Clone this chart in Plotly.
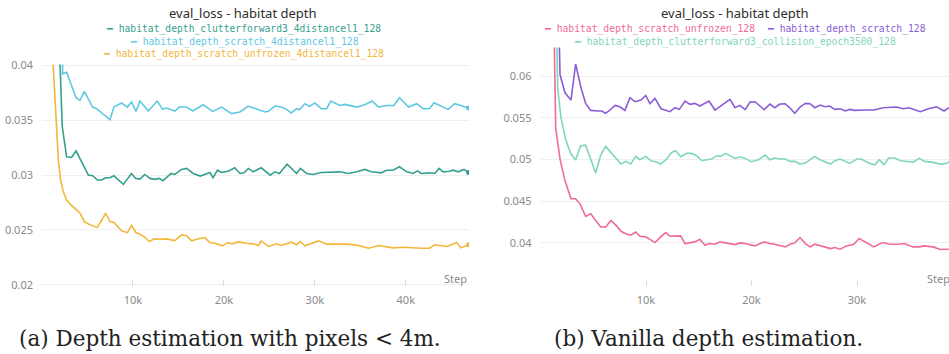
import plotly.graph_objects as go

# ---------------- data: left panel (depth with pixels < 4m) ----------------
left_cyan_x = [2.1, 2.27, 2.71, 3.74, 4.18, 4.65, 5.57, 6.0, 7.47, 7.91, 8.75, 9.38, 9.85, 10.33, 10.77,
               11.68, 12.67, 13.26, 13.7, 14.6, 15.1, 15.9, 16.56, 17.73, 18.75, 19.74, 20.84, 21.76,
               22.67, 23.4, 23.96, 24.5, 24.9, 25.6, 26.3, 26.9, 27.4, 28.0, 28.3, 28.9, 29.4, 30.0,
               30.7, 31.3, 31.75, 32.75, 33.3, 33.85, 34.6, 35.5, 36.3, 37.0, 37.9, 38.7, 39.3, 40.3,
               41.2, 41.9, 42.6, 43.1, 43.9, 44.65, 45.4, 46.1, 46.9]
left_cyan_y = [0.06, 0.03924, 0.03939, 0.03706, 0.03682, 0.03764, 0.03621, 0.03606, 0.03506, 0.03621,
               0.03658, 0.03621, 0.03667, 0.03582, 0.03676, 0.03585, 0.03676, 0.03600, 0.03612, 0.03585,
               0.03621, 0.03621, 0.03585, 0.03642, 0.03582, 0.03621, 0.03561, 0.03576, 0.03630, 0.03606,
               0.03591, 0.03576, 0.03582, 0.03630, 0.03621, 0.03600, 0.03567, 0.03606, 0.03597, 0.03652,
               0.03627, 0.03658, 0.03606, 0.03606, 0.03676, 0.03636, 0.03645, 0.03636, 0.03621, 0.03642,
               0.03676, 0.03621, 0.03636, 0.03636, 0.03706, 0.03621, 0.03652, 0.03606, 0.03606, 0.03661,
               0.03630, 0.03600, 0.03652, 0.03636, 0.03612]

left_teal_x = [1.9, 2.23, 2.71, 3.26, 3.74, 4.18, 4.6, 5.1, 5.57, 6.08, 6.56, 7.0, 7.47, 7.9, 8.94, 9.85,
               10.3, 10.77, 11.3, 11.87, 12.42, 12.9, 13.3, 14.2, 14.6, 15.35, 15.9, 16.63, 17.4, 18.1,
               18.46, 18.8, 19.3, 19.74, 20.47, 21.2, 21.76, 22.2, 22.7, 23.2, 23.8, 24.1, 25.1, 25.6,
               26.1, 26.95, 28.0, 28.4, 29.1, 29.8, 30.7, 31.8, 32.7, 33.7, 34.6, 35.5, 36.2, 37.3, 37.9,
               38.6, 39.3, 40.1, 40.8, 41.3, 41.7, 42.6, 43.2, 43.65, 44.1, 44.8, 45.2, 45.75, 46.4, 46.9]
left_teal_y = [0.042, 0.03440, 0.03167, 0.03161, 0.03221, 0.03152, 0.03082, 0.03000, 0.02994, 0.02955,
               0.02955, 0.02976, 0.02976, 0.02994, 0.02915, 0.03015, 0.02970, 0.02964, 0.03006, 0.02970,
               0.02961, 0.02970, 0.02949, 0.03015, 0.03006, 0.03052, 0.03061, 0.03015, 0.02991, 0.03015,
               0.03024, 0.02976, 0.03045, 0.03024, 0.03036, 0.03067, 0.03015, 0.03021, 0.03061, 0.03030,
               0.03052, 0.03067, 0.03000, 0.03030, 0.03015, 0.03100, 0.03015, 0.03061, 0.03015, 0.03006,
               0.03024, 0.03024, 0.03030, 0.03015, 0.03030, 0.03052, 0.03030, 0.03021, 0.03045, 0.03045,
               0.03076, 0.03030, 0.03015, 0.03039, 0.03015, 0.03021, 0.03015, 0.03061, 0.03030, 0.03036,
               0.03045, 0.03030, 0.03052, 0.03024]

left_yellow_x = [1.0, 1.8, 2.05, 2.34, 2.71, 3.26, 3.74, 4.18, 4.65, 5.16, 6.08, 7.0, 7.47, 7.91, 8.75, 9.38,
                 9.85, 10.33, 10.77, 11.32, 11.8, 12.34, 12.97, 13.7, 14.6, 15.35, 15.9, 16.45, 17.0, 17.9,
                 18.46, 19.0, 19.85, 20.4, 20.9, 21.6, 22.5, 23.2, 23.8, 24.1, 24.9, 25.8, 26.3, 27.4,
                 28.0, 28.4, 28.9, 29.6, 30.4, 31.3, 32.4, 33.5, 34.6, 35.9, 37.0, 37.9, 38.6, 39.8, 40.8,
                 41.7, 42.6, 43.2, 43.7, 44.5, 45.0, 45.6, 46.05, 46.9]
left_yellow_y = [0.0435, 0.03136, 0.02955, 0.02849, 0.02773, 0.02721, 0.02688, 0.02652, 0.02576, 0.02552,
                 0.02521, 0.02652, 0.02576, 0.02567, 0.02491, 0.02476, 0.02540, 0.02476, 0.02461, 0.02433,
                 0.02394, 0.02418, 0.02415, 0.02418, 0.02403, 0.02455, 0.02446, 0.02400, 0.02415, 0.02430,
                 0.02385, 0.02379, 0.02355, 0.02385, 0.02373, 0.02391, 0.02379, 0.02373, 0.02358, 0.02400,
                 0.02349, 0.02373, 0.02358, 0.02388, 0.02364, 0.02394, 0.02355, 0.02373, 0.02400, 0.02370,
                 0.02370, 0.02370, 0.02361, 0.02333, 0.02358, 0.02349, 0.02336, 0.02342, 0.02336, 0.02333,
                 0.02333, 0.02364, 0.02358, 0.02349, 0.02364, 0.02385, 0.02336, 0.02364]

# ---------------- data: right panel (vanilla depth) ----------------
right_purple_x = [1.5, 1.85, 2.32, 2.89, 3.33, 3.84, 4.28, 4.76, 5.48, 5.8, 6.18, 6.6, 7.06, 7.53, 8.0,
                  8.48, 8.96, 9.52, 9.97, 10.38, 10.85, 11.42, 12.27, 12.75, 13.16, 13.7, 14.17, 14.64,
                  15.1, 15.97, 16.54, 17.17, 17.96, 18.44, 18.9, 19.4, 19.86, 20.33, 21.2, 21.75, 22.2,
                  22.7, 23.2, 23.65, 24.1, 24.6, 25.1, 25.55, 26.0, 26.5, 26.97, 27.4, 27.9, 28.4, 28.9,
                  29.3, 29.8, 30.6, 31.6, 32.5, 33.75, 34.4, 34.9, 35.4, 36.0, 36.76, 37.55, 38.25, 38.7]
right_purple_y = [0.08, 0.0602, 0.05801, 0.05714, 0.06147, 0.05861, 0.05674, 0.0559, 0.05583, 0.05583,
                  0.05555, 0.05595, 0.0565, 0.05634, 0.0559, 0.05742, 0.05694, 0.05714, 0.05769, 0.0567,
                  0.05734, 0.0561, 0.05575, 0.05622, 0.05602, 0.05702, 0.05662, 0.05674, 0.05642, 0.05702,
                  0.05594, 0.05654, 0.05722, 0.05622, 0.0565, 0.0560, 0.0569, 0.05694, 0.0560, 0.05666,
                  0.05622, 0.05666, 0.0567, 0.05618, 0.05555, 0.0563, 0.05674, 0.0567, 0.05622, 0.05654,
                  0.05634, 0.05642, 0.05602, 0.0561, 0.05583, 0.05602, 0.0559, 0.05594, 0.05594, 0.05622,
                  0.0563, 0.0561, 0.05622, 0.05602, 0.05575, 0.0561, 0.05634, 0.05583, 0.05622]

right_mint_x = [1.3, 1.63, 1.94, 2.42, 2.89, 3.33, 3.8, 4.28, 4.76, 5.23, 5.7, 6.18, 6.75, 7.16, 7.63,
                8.07, 8.55, 9.02, 9.43, 9.97, 10.47, 10.92, 11.39, 11.9, 12.43, 12.8, 13.3, 13.85, 14.33,
                14.8, 15.3, 15.75, 16.23, 16.7, 17.08, 17.55, 17.96, 18.44, 18.9, 19.4, 20.0, 20.65,
                21.3, 21.75, 22.2, 22.7, 23.2, 23.65, 24.1, 24.6, 25.1, 26.0, 26.5, 27.5, 27.9, 28.4,
                29.3, 30.0, 30.4, 30.9, 31.2, 31.7, 32.1, 32.56, 33.0, 33.6, 34.1, 35.0, 35.3, 35.9, 36.4,
                37.2, 37.9, 38.5, 38.7]
right_mint_y = [0.08, 0.05857, 0.05503, 0.05225, 0.05066, 0.04994, 0.05165, 0.05173, 0.05006, 0.04835,
                0.05054, 0.05157, 0.05074, 0.05018, 0.04946, 0.04978, 0.04946, 0.05038, 0.04998, 0.05038,
                0.04986, 0.04974, 0.04946, 0.04998, 0.05086, 0.05106, 0.05034, 0.05074, 0.05074, 0.05046,
                0.04986, 0.04998, 0.05006, 0.05046, 0.05038, 0.05074, 0.05046, 0.05014, 0.05034, 0.05014,
                0.04974, 0.04998, 0.05054, 0.04998, 0.05018, 0.05006, 0.05006, 0.04978, 0.04978, 0.04946,
                0.04958, 0.05038, 0.04998, 0.04946, 0.04986, 0.05006, 0.04954, 0.05006, 0.05006, 0.04974,
                0.04954, 0.04938, 0.04998, 0.04938, 0.05018, 0.05018, 0.04986, 0.04974, 0.04966, 0.05014,
                0.04978, 0.04966, 0.04946, 0.04954, 0.04974]

right_pink_x = [1.1, 1.44, 1.85, 2.32, 2.89, 3.33, 3.74, 4.28, 4.76, 5.23, 5.7, 6.18, 6.68, 7.16, 7.63,
                8.07, 8.55, 9.02, 9.43, 9.97, 10.38, 10.85, 11.39, 11.86, 12.27, 12.75, 13.28, 13.7,
                14.17, 14.64, 15.1, 15.6, 15.97, 16.54, 17.01, 17.49, 17.96, 18.44, 18.9, 19.4, 20.3,
                21.2, 21.75, 22.2, 23.2, 23.65, 24.1, 24.6, 25.1, 25.55, 26.0, 26.5, 27.5, 27.9, 28.4,
                29.0, 29.7, 30.2, 30.8, 31.6, 32.4, 33.1, 33.9, 34.5, 35.3, 35.9, 36.4, 37.2, 37.9, 38.7]
right_pink_y = [0.08, 0.05380, 0.05006, 0.04748, 0.04529, 0.04529, 0.04469, 0.04318, 0.04350, 0.04270,
                0.04191, 0.04191, 0.04270, 0.04211, 0.04139, 0.04111, 0.04092, 0.04131, 0.04080, 0.04072,
                0.04044, 0.04004, 0.04072, 0.04123, 0.04080, 0.04084, 0.04084, 0.03992, 0.04004, 0.04012,
                0.04044, 0.03972, 0.03992, 0.03984, 0.04012, 0.04004, 0.03992, 0.03980, 0.04000, 0.03992,
                0.03964, 0.04012, 0.03992, 0.03984, 0.03952, 0.03984, 0.04000, 0.04064, 0.03992, 0.03952,
                0.03984, 0.03964, 0.03932, 0.03944, 0.03924, 0.03964, 0.03984, 0.04052, 0.04012, 0.03952,
                0.04004, 0.03984, 0.03984, 0.03992, 0.03952, 0.03952, 0.03964, 0.03952, 0.03920, 0.03924]

left_names = ["habitat_depth_clutterforward3_4distancel1_128",
              "habitat_depth_scratch_4distancel1_128",
              "habitat_depth_scratch_unfrozen_4distancel1_128"]
right_names = ["habitat_depth_scratch_unfrozen_128",
               "habitat_depth_scratch_128",
               "habitat_depth_clutterforward3_collision_epoch3500_128"]
panel_title = "eval_loss - habitat depth"
caption_a = "(a) Depth estimation with pixels &lt; 4m."
caption_b = "(b) Vanilla depth estimation."

left_xticks = [10, 20, 30, 40]
right_xticks = [10, 20, 30]
xtick_text = {10: "10k", 20: "20k", 30: "30k", 40: "40k"}
left_yticks = [0.02, 0.025, 0.03, 0.035, 0.04]
right_yticks = [0.04, 0.045, 0.05, 0.055, 0.06]

# ---------------- styling ----------------
C_TEAL = "#36a08f"
C_CYAN = "#5fc8e2"
C_YELLOW = "#f2b73a"
C_PINK = "#ef6b96"
C_PURPLE = "#8b5cd4"
C_MINT = "#7fd6bd"
W, H = 949, 354

fig = go.Figure()


def add_line(x, y, color, xa, ya, name, end_marker=False):
    fig.add_trace(go.Scatter(x=[v * 1000 for v in x], y=y, mode="lines", name=name,
                             line=dict(color=color, width=1.6), xaxis=xa, yaxis=ya,
                             showlegend=False, hoverinfo="skip"))
    if end_marker:
        fig.add_trace(go.Scatter(x=[x[-1] * 1000], y=[y[-1]], mode="markers",
                                 marker=dict(color=color, size=5), xaxis=xa, yaxis=ya,
                                 showlegend=False, hoverinfo="skip"))


add_line(left_cyan_x, left_cyan_y, C_CYAN, "x", "y", left_names[1], True)
add_line(left_teal_x, left_teal_y, C_TEAL, "x", "y", left_names[0], True)
add_line(left_yellow_x, left_yellow_y, C_YELLOW, "x", "y", left_names[2], True)
add_line(right_mint_x, right_mint_y, C_MINT, "x2", "y2", right_names[2])
add_line(right_purple_x, right_purple_y, C_PURPLE, "x2", "y2", right_names[1])
add_line(right_pink_x, right_pink_y, C_PINK, "x2", "y2", right_names[0])

tickfont = dict(family="Noto Sans", size=11, color="#8a8a8a")
grid = "#efefef"


def px2x(p):
    return p / W


def py2y(p):
    # target pixel row -> paper coordinate (compensates the observed vertical rendering offset)
    d = (p - 6.4) / 0.966
    return 1 - d / H


common_x = dict(showgrid=False, zeroline=False, showline=False, ticks="inside", ticklen=6,
                tickcolor="#dcdcdc", tickwidth=1, tickfont=tickfont, ticklabelstandoff=6)
common_y = dict(showgrid=True, gridcolor=grid, gridwidth=1, zeroline=False, showline=False,
                ticks="", tickfont=tickfont, ticklabelstandoff=8)

fig.update_layout(
    width=W, height=H, margin=dict(l=0, r=0, t=0, b=0),
    paper_bgcolor="white", plot_bgcolor="white",
    xaxis=dict(domain=[px2x(42), px2x(469)], range=[0, 46950], anchor="y",
               tickvals=[v * 1000 for v in left_xticks], ticktext=[xtick_text[v] for v in left_xticks],
               **common_x),
    yaxis=dict(domain=[py2y(286), py2y(64)], range=[0.0199, 0.0401], anchor="x",
               tickvals=left_yticks, ticktext=[str(v) for v in left_yticks], **common_y),
    xaxis2=dict(domain=[px2x(540.5), 1.0], range=[0, 38720], anchor="y2",
                tickvals=[v * 1000 for v in right_xticks], ticktext=[xtick_text[v] for v in right_xticks],
                **common_x),
    yaxis2=dict(domain=[py2y(286), py2y(47)], range=[0.03485, 0.06345], anchor="x2",
                tickvals=right_yticks, ticktext=[str(v) for v in right_yticks], **common_y),
)

ann = []
# titles
for cx in (243, 735):
    ann.append(dict(text=panel_title, x=px2x(cx), y=py2y(12.5), xref="paper", yref="paper",
                    showarrow=False, xanchor="center", yanchor="middle",
                    font=dict(family="Noto Sans", size=13, color="#2e2e2e")))
# legends (monospace)
legfont = "DejaVu Sans Mono"
LS = 9.7
leg_items = [
    (left_names[0], C_TEAL, 243.5, 28),
    (left_names[1], C_CYAN, 244, 42),
    (left_names[2], C_YELLOW, 243.5, 54),
    (right_names[0], C_PINK, 649, 28),
    (right_names[1], C_PURPLE, 846, 28),
    (right_names[2], C_MINT, 735, 42),
]
for name, col, cx, cy in leg_items:
    ann.append(dict(text="\u2501 " + name, x=px2x(cx), y=py2y(cy), xref="paper", yref="paper",
                    showarrow=False, xanchor="center", yanchor="middle",
                    font=dict(family=legfont, size=LS, color=col)))
# Step labels
for sx in (455, 938):
    ann.append(dict(text="Step", x=px2x(sx), y=py2y(279), xref="paper", yref="paper",
                    showarrow=False, xanchor="center", yanchor="middle",
                    font=dict(family="Noto Sans", size=11, color="#8a8a8a")))
# captions
ann.append(dict(text=caption_a, x=px2x(230), y=py2y(339), xref="paper", yref="paper",
                showarrow=False, xanchor="center", yanchor="middle",
                font=dict(family="DejaVu Serif", size=21.5, color="#222222")))
ann.append(dict(text=caption_b, x=px2x(708), y=py2y(339), xref="paper", yref="paper",
                showarrow=False, xanchor="center", yanchor="middle",
                font=dict(family="DejaVu Serif", size=21.5, color="#222222")))
fig.update_layout(annotations=ann)

fig.write_html("out.html")
